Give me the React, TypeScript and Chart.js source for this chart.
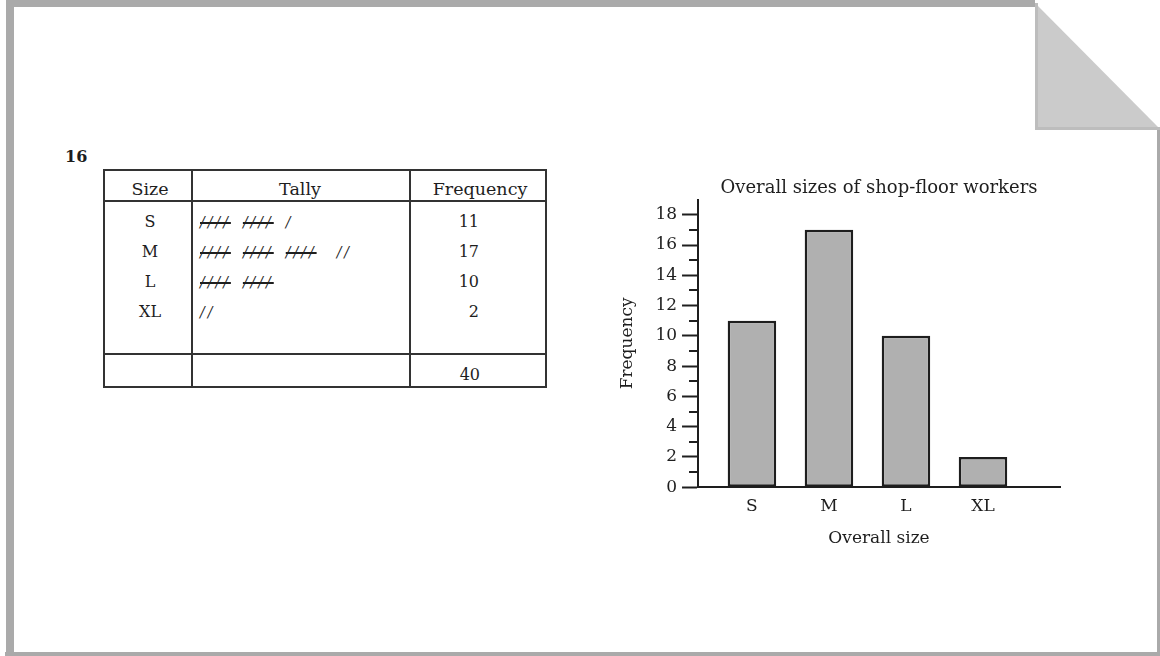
import React, { useEffect, useRef } from "react";
import { Chart, registerables } from "chart.js";

Chart.register(...registerables);

// ---- data ----
const chartTitle = "Overall sizes of shop-floor workers";
const xAxisTitle = "Overall size";
const yAxisTitle = "Frequency";
const categories = ["S", "M", "L", "XL"];
const frequencies = [11, 17, 10, 2];
const total = 40;
const questionNumber = "16";
const tableHeaders = ["Size", "Tally", "Frequency"];
const yMax = 19;
const yLabelStep = 2;
const yLabelMax = 18;

const SERIF = '"DejaVu Serif", "Liberation Serif", serif';
const INK = "#1e1e1e";
const FRAME = "#aaaaaa";

type Align = "left" | "center" | "right";

function Txt(props: {
  x: number;
  y: number;
  align?: Align;
  size?: number;
  bold?: boolean;
  children: React.ReactNode;
}) {
  const { x, y, align = "center", size = 17, bold = false, children } = props;
  const tx = align === "center" ? "-50%" : align === "right" ? "-100%" : "0";
  return (
    <div
      style={{
        position: "absolute",
        left: x,
        top: y,
        transform: `translate(${tx}, -50%)`,
        fontFamily: SERIF,
        fontSize: size,
        fontWeight: bold ? 700 : 400,
        color: INK,
        lineHeight: 1,
        whiteSpace: "nowrap",
      }}
    >
      {children}
    </div>
  );
}

function Tally({ n }: { n: number }) {
  const groups = Math.floor(n / 5);
  const rest = n % 5;
  const spans: React.ReactNode[] = [];
  for (let g = 0; g < groups; g++) {
    spans.push(
      <span
        key={"g" + g}
        style={{
          display: "inline-block",
          textDecoration: "line-through",
          textDecorationThickness: "1.5px",
          letterSpacing: "3px",
          marginRight: 12,
        }}
      >
        {"////"}
      </span>
    );
  }
  if (rest > 0) {
    spans.push(
      <span key="r" style={{ display: "inline-block", letterSpacing: "3px", marginLeft: groups >= 3 ? 8 : 0 }}>
        {"/".repeat(rest)}
      </span>
    );
  }
  return <>{spans}</>;
}

function Line(props: { x: number; y: number; w: number; h: number; c?: string }) {
  return (
    <div
      style={{
        position: "absolute",
        left: props.x,
        top: props.y,
        width: props.w,
        height: props.h,
        background: props.c ?? "#333",
      }}
    />
  );
}

export default function App() {
  const ref = useRef<HTMLCanvasElement>(null);

  useEffect(() => {
    document.body.style.margin = "0";
    const minorTicks = {
      id: "minorTicks",
      afterDraw(chart: any) {
        const y = chart.scales.y;
        const ctx = chart.ctx;
        const left = chart.chartArea.left;
        ctx.save();
        ctx.strokeStyle = INK;
        ctx.lineWidth = 2;
        for (let v = 1; v < yLabelMax; v += 2) {
          const py = Math.round(y.getPixelForValue(v));
          ctx.beginPath();
          ctx.moveTo(left - 9, py);
          ctx.lineTo(left, py);
          ctx.stroke();
        }
        ctx.restore();
      },
    };

    const chart = new Chart(ref.current as HTMLCanvasElement, {
      type: "bar",
      data: {
        datasets: [
          {
            data: frequencies.map((f, i) => ({ x: i + 1, y: f })),
            backgroundColor: "#b0b0b0",
            borderColor: INK,
            borderWidth: 2.5,
            borderSkipped: false,
            barPercentage: 0.63,
            categoryPercentage: 1,
          },
        ],
      },
      options: {
        responsive: false,
        animation: false,
        devicePixelRatio: 1,
        layout: { padding: { left: 12, right: 100, top: 0, bottom: 11 } },
        plugins: {
          legend: { display: false },
          tooltip: { enabled: false },
          title: {
            display: true,
            fullSize: false,
            text: chartTitle,
            color: INK,
            font: { family: SERIF, size: 18, weight: "normal" },
            padding: { top: 8, bottom: 0 },
          },
        },
        scales: {
          x: {
            type: "linear",
            min: 0.3,
            max: 5,
            offset: false,
            grid: { display: false, drawTicks: false, offset: false },
            border: { display: true, color: INK, width: 2 },
            afterBuildTicks: (s: any) => {
              s.ticks = categories.map((_, i) => ({ value: i + 1 }));
            },
            ticks: {
              autoSkip: false,
              padding: 9,
              color: INK,
              font: { family: SERIF, size: 17 },
              callback: (v: any) => categories[Math.round(Number(v)) - 1] ?? "",
            },
            title: {
              display: true,
              text: xAxisTitle,
              color: INK,
              font: { family: SERIF, size: 17 },
              padding: { top: 3, bottom: 0 },
            },
          },
          y: {
            min: 0,
            max: yMax,
            border: { display: true, color: INK, width: 2 },
            grid: {
              drawOnChartArea: false,
              drawTicks: true,
              tickLength: 16,
              tickWidth: 2,
              tickColor: (c: any) =>
                c.tick && c.tick.value % yLabelStep === 0 && c.tick.value <= yLabelMax ? INK : "rgba(0,0,0,0)",
            },
            ticks: {
              stepSize: 1,
              autoSkip: false,
              padding: 5,
              color: INK,
              font: { family: SERIF, size: 17 },
              callback: (v: any) => (Number(v) % yLabelStep === 0 && Number(v) <= yLabelMax ? String(v) : ""),
            },
            title: {
              display: true,
              text: yAxisTitle,
              color: INK,
              font: { family: SERIF, size: 17 },
              padding: { top: 0, bottom: 13 },
            },
          },
        },
      },
      plugins: [minorTicks],
    } as any);
    return () => chart.destroy();
  }, []);

  const rowY = (i: number) => 222 + i * 30;

  return (
    <div
      style={{
        position: "fixed",
        left: 0,
        top: 0,
        width: 1160,
        height: 656,
        background: "#ffffff",
        overflow: "hidden",
      }}
    >
      {/* page frame */}
      <Line x={7} y={0} w={1028} h={7} c={FRAME} />
      <Line x={6} y={0} w={8} h={656} c={FRAME} />
      <Line x={5} y={652} w={1155} h={4} c={FRAME} />
      <Line x={1157} y={129} w={3} h={527} c={FRAME} />
      <svg
        width={1160}
        height={656}
        style={{ position: "absolute", left: 0, top: 0, pointerEvents: "none" }}
      >
        <polygon points="1035,3 1160,129 1035,129" fill="#cbcbcb" />
        <line x1={1036.5} y1={3} x2={1036.5} y2={130} stroke="#bdbdbd" strokeWidth={3} />
        <line x1={1035} y1={128.5} x2={1160} y2={128.5} stroke="#bdbdbd" strokeWidth={3} />
      </svg>

      {/* question number */}
      <Txt x={65} y={157} align="left" size={16} bold>
        {questionNumber}
      </Txt>

      {/* table lines */}
      <div
        style={{
          position: "absolute",
          left: 103,
          top: 169,
          width: 444,
          height: 219,
          border: "2px solid #333",
          boxSizing: "border-box",
        }}
      />
      <Line x={191} y={169} w={2} h={219} />
      <Line x={409} y={169} w={2} h={219} />
      <Line x={103} y={200} w={444} h={2} />
      <Line x={103} y={353} w={444} h={2} />

      {/* headers */}
      <Txt x={150} y={190} size={17.5}>{tableHeaders[0]}</Txt>
      <Txt x={300} y={190} size={17.5}>{tableHeaders[1]}</Txt>
      <Txt x={480} y={190} size={17.5}>{tableHeaders[2]}</Txt>

      {/* rows */}
      {categories.map((c, i) => (
        <React.Fragment key={c}>
          <Txt x={150} y={rowY(i)} size={16}>{c}</Txt>
          <Txt x={200} y={rowY(i)} align="left" size={14}>
            <span style={{ fontStyle: "italic" }}>
              <Tally n={frequencies[i]} />
            </span>
          </Txt>
          <Txt x={479} y={rowY(i)} align="right" size={16}>{String(frequencies[i])}</Txt>
        </React.Fragment>
      ))}
      <Txt x={480} y={375} align="right" size={16}>{String(total)}</Txt>

      {/* chart */}
      <canvas
        ref={ref}
        width={555}
        height={390}
        style={{ position: "absolute", left: 605, top: 170, width: 555, height: 390 }}
      />
    </div>
  );
}
